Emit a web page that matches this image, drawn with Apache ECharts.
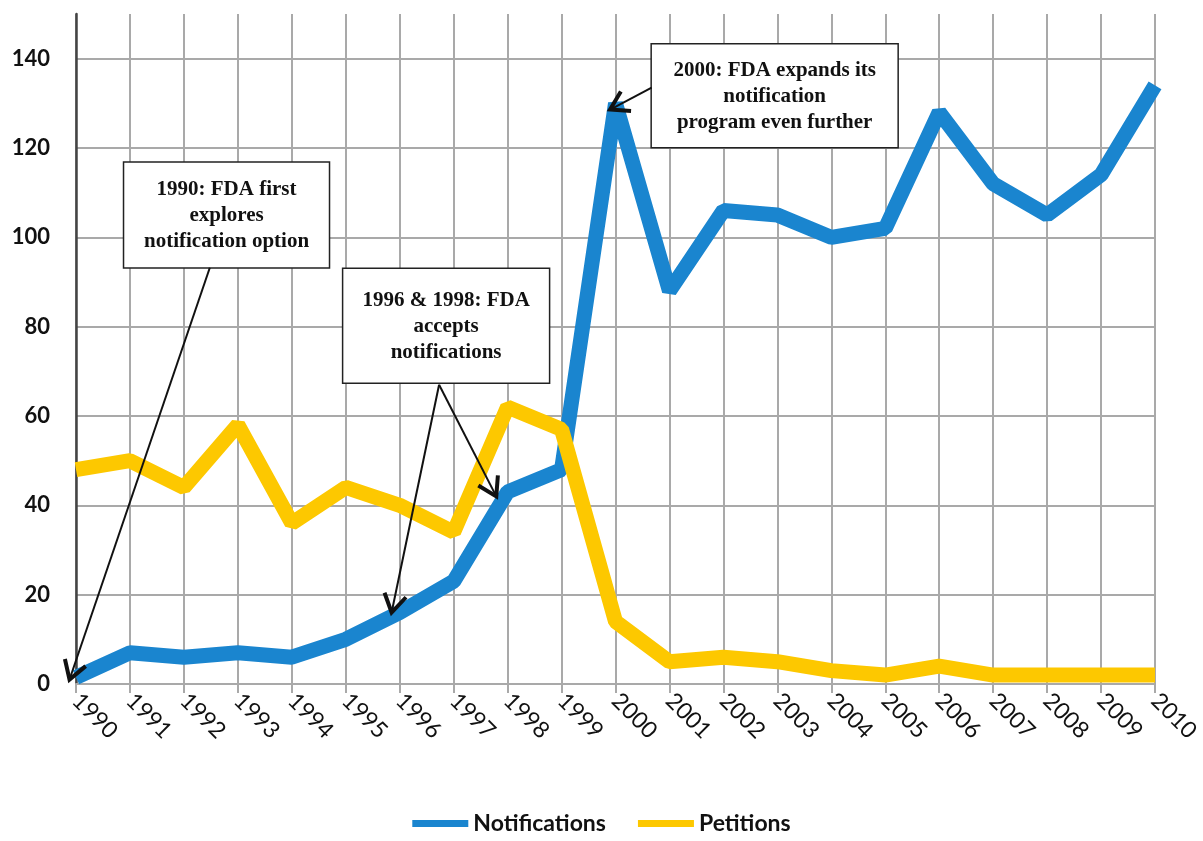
<!DOCTYPE html>
<html>
<head>
<meta charset="utf-8">
<script src="https://cdn.jsdelivr.net/npm/echarts@6/dist/echarts.min.js"></script>
<style>
    html, body { margin: 0; padding: 0; background: #fff; }
    #chart { width: 1203px; height: 841px; }
</style>
</head>
<body>
<div id="chart"></div>
<script>
    const years = ['1990', '1991', '1992', '1993', '1994', '1995', '1996', '1997', '1998', '1999', '2000',
        '2001', '2002', '2003', '2004', '2005', '2006', '2007', '2008', '2009', '2010']
    const notifications = [1.5, 7, 6, 7, 6, 10, 16, 23, 43, 48, 130, 88, 106, 105, 100, 102, 128, 112, 105, 114, 134]
    const petitions = [48, 50, 44, 58, 36, 44, 40, 34, 62, 57, 14, 5, 6, 5, 3, 2, 4, 2, 2, 2, 2]

    // annotation boxes, placed in data coordinates (category index, value)
    const noteTexts = [
        '1990: FDA first\nexplores\nnotification option',
        '1996 & 1998: FDA\naccepts\nnotifications',
        '2000: FDA expands its\nnotification\nprogram even further'
    ]
    const noteCenters = [[2.79, 105], [6.86, 80.2], [12.95, 131.7]]
    const noteSizes = [[206, 106], [207, 115], [247, 104]]
    const noteArrows = [
        [[[2.48, 93.2], [-0.12, 1]]],
        [[[6.73, 67], [5.85, 16]], [[6.73, 67], [7.79, 42]]],
        [[[10.67, 133.5], [9.9, 128.6]]]
    ]

    const blue = '#1a85cf'
    const yellow = '#fdc800'
    const gridGray = '#a9a9a9'

    let myChart = echarts.init(document.getElementById('chart'))
    let chartData = {
        animation: false,
        grid: {
            left: 76,
            right: 46,
            top: 14,
            bottom: 157,
            containLabel: false
        },
        legend: {
            bottom: 1,
            left: 'center',
            itemWidth: 56,
            itemHeight: 7,
            itemGap: 32,
            textStyle: {
                fontFamily: 'Lato',
                fontWeight: 'bold',
                fontSize: 23,
                color: '#111'
            },
            data: [
                { name: 'Notifications', icon: 'rect' },
                { name: 'Petitions', icon: 'rect' }
            ]
        },
        xAxis: {
            type: 'category',
            boundaryGap: false,
            data: years,
            axisLine: {
                lineStyle: { color: gridGray, width: 2 }
            },
            axisTick: {
                show: true,
                length: 9,
                lineStyle: { color: gridGray, width: 2 }
            },
            axisLabel: {
                rotate: -45,
                margin: 13,
                interval: 0,
                fontFamily: 'Lato',
                fontSize: 23,
                color: '#111'
            },
            splitLine: {
                show: true,
                interval: 0,
                lineStyle: { color: gridGray, width: 2 }
            }
        },
        yAxis: {
            type: 'value',
            min: 0,
            max: 150,
            interval: 20,
            axisLine: {
                show: true,
                lineStyle: { color: '#444', width: 2.5 }
            },
            axisTick: { show: false },
            axisLabel: {
                showMaxLabel: false,
                margin: 26,
                fontFamily: 'Lato',
                fontWeight: 'bold',
                fontSize: 22,
                color: '#111'
            },
            splitLine: {
                show: true,
                showMaxLine: false,
                lineStyle: { color: gridGray, width: 2 }
            }
        },
        series: [
            {
                name: 'Notifications',
                type: 'line',
                data: notifications,
                symbol: 'none',
                color: blue,
                lineStyle: { width: 15, color: blue, join: 'bevel', cap: 'butt' }
            },
            {
                name: 'Petitions',
                type: 'line',
                data: petitions,
                symbol: 'none',
                color: yellow,
                lineStyle: { width: 15, color: yellow, join: 'bevel', cap: 'butt' }
            }
        ]
    }
    myChart.setOption(chartData)

    // map (index, value) to pixels through the chart's own axes
    let origin = myChart.convertToPixel({ gridIndex: 0 }, [0, 0])
    let far = myChart.convertToPixel({ gridIndex: 0 }, [20, 140])
    function toPx(p) {
        return [
            origin[0] + (far[0] - origin[0]) * p[0] / 20,
            origin[1] + (far[1] - origin[1]) * p[1] / 140
        ]
    }

    let elements = []
    noteTexts.forEach(function (txt, i) {
        let c = toPx(noteCenters[i])
        let w = noteSizes[i][0]
        let h = noteSizes[i][1]
        elements.push({
            type: 'rect',
            z: 100,
            shape: { x: c[0] - w / 2, y: c[1] - h / 2, width: w, height: h },
            style: { fill: '#fff', stroke: '#222', lineWidth: 1.5 }
        })
        elements.push({
            type: 'text',
            z: 101,
            x: c[0],
            y: c[1] + 1,
            style: {
                text: txt,
                align: 'center',
                verticalAlign: 'middle',
                font: 'bold 21px "Liberation Serif"',
                lineHeight: 26,
                fill: '#111'
            }
        })
        noteArrows[i].forEach(function (a) {
            let s = toPx(a[0])
            let t = toPx(a[1])
            let ang = Math.atan2(t[1] - s[1], t[0] - s[0])
            let len = 21
            let w1 = [t[0] - len * Math.cos(ang - 0.55), t[1] - len * Math.sin(ang - 0.55)]
            let w2 = [t[0] - len * Math.cos(ang + 0.55), t[1] - len * Math.sin(ang + 0.55)]
            elements.push({
                type: 'line',
                z: 100,
                shape: { x1: s[0], y1: s[1], x2: t[0], y2: t[1] },
                style: { stroke: '#111', lineWidth: 2 }
            })
            elements.push({
                type: 'polyline',
                z: 100,
                shape: { points: [w1, t, w2] },
                style: { stroke: '#111', lineWidth: 4, fill: null }
            })
        })
    })
    myChart.setOption({ graphic: { elements: elements } })
</script>
</body>
</html>
